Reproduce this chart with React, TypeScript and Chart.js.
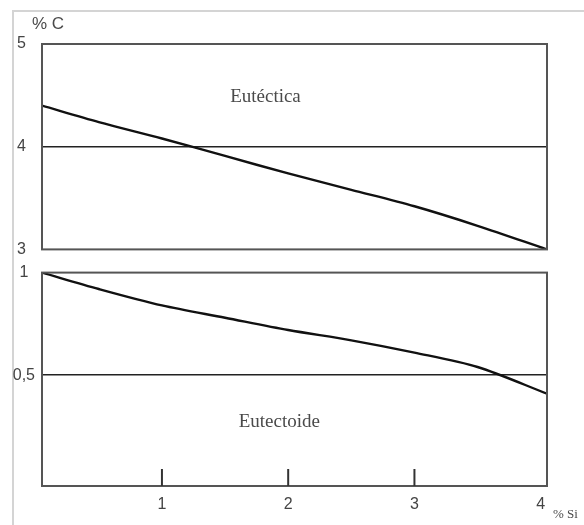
import React, { useEffect, useRef } from 'react';
import { Chart, registerables } from 'chart.js';
Chart.register(...registerables);

// % Si (x) values sampled along both curves
const siPct = [0.05, 0.5, 1, 1.5, 2, 2.5, 3, 3.5, 4.05];
// Eutectic carbon (% C)
const eutecticC = [4.4, 4.24, 4.08, 3.91, 3.74, 3.58, 3.42, 3.23, 3.0];
// Eutectoid carbon (% C)
const eutectoidC = [1.0, 0.92, 0.84, 0.78, 0.72, 0.67, 0.61, 0.54, 0.41];

const topTicks = [3, 4, 5];
const bottomTicks = [0.5, 1];
const xTicks = [1, 2, 3, 4];
const topRef = 4;
const bottomRef = 0.5;

const SANS = "'Liberation Sans', Arial, sans-serif";
const SERIF = "'Liberation Serif', 'Times New Roman', serif";

const framePlugin = {
  id: 'frame',
  afterDatasetsDraw(chart: any, _args: any, opts: any) {
    const { ctx, chartArea } = chart;
    const { left, right, top, bottom } = chartArea;
    ctx.save();
    ctx.strokeStyle = '#555';
    ctx.lineWidth = 2;
    ctx.strokeRect(left, top, right - left, bottom - top);
    const xs = chart.scales.x;
    const ys = chart.scales.y;
    if (opts.innerTicks) {
      ctx.strokeStyle = '#333';
      ctx.lineWidth = 2;
      for (const v of opts.innerTicks) {
        const px = xs.getPixelForValue(v);
        ctx.beginPath();
        ctx.moveTo(px, bottom);
        ctx.lineTo(px, bottom - 17);
        ctx.stroke();
      }
    }
    ctx.fillStyle = '#4a4a4a';
    for (const t of opts.labels || []) {
      ctx.font = t.font;
      ctx.textAlign = 'center';
      ctx.textBaseline = 'middle';
      ctx.fillText(t.text, xs.getPixelForValue(t.x), ys.getPixelForValue(t.y));
    }
    for (const t of opts.corner || []) {
      ctx.font = t.font;
      ctx.textAlign = 'left';
      ctx.textBaseline = 'middle';
      const bx = t.anchor === 'tl' ? left : right;
      const by = t.anchor === 'tl' ? top : bottom;
      ctx.fillText(t.text, bx + t.dx, by + t.dy);
    }
    ctx.restore();
  },
};

function makeTop(canvas: HTMLCanvasElement) {
  return new Chart(canvas, {
    type: 'line',
    data: {
      datasets: [
        {
          data: siPct.map((x, i) => ({ x, y: eutecticC[i] })),
          borderColor: '#111',
          borderWidth: 2.4,
          pointRadius: 0,
          tension: 0.3,
          fill: false,
        },
      ],
    },
    options: {
      responsive: false,
      animation: false,
      layout: { padding: { top: 44, right: 37, bottom: 12, left: 0 } },
      plugins: {
        legend: { display: false },
        tooltip: { enabled: false },
        frame: {
          labels: [{ text: 'Eutéctica', x: 1.82, y: 4.48, font: `19px ${SERIF}` }],
          corner: [{ text: '% C', anchor: 'tl', dx: -10, dy: -20, font: `17px ${SANS}` }],
        },
      } as any,
      scales: {
        x: { type: 'linear', display: false, min: 0.05, max: 4.05 },
        y: {
          type: 'linear',
          min: 3,
          max: 5,
          afterFit: (s: any) => { s.width = 42; },
          afterBuildTicks: (s: any) => { s.ticks = topTicks.map((v) => ({ value: v })); },
          ticks: {
            crossAlign: 'center',
            padding: 16,
            color: '#444',
            font: { family: SANS, size: 16 },
            callback: (v: any) => String(v),
          },
          grid: {
            drawTicks: false,
            lineWidth: 1.5,
            color: (c: any) => (c.tick && c.tick.value === topRef ? '#222' : 'rgba(0,0,0,0)'),
          },
          border: { display: false },
        },
      },
    },
    plugins: [framePlugin],
  } as any);
}

function makeBottom(canvas: HTMLCanvasElement) {
  return new Chart(canvas, {
    type: 'line',
    data: {
      datasets: [
        {
          data: siPct.map((x, i) => ({ x, y: eutectoidC[i] })),
          borderColor: '#111',
          borderWidth: 2.4,
          pointRadius: 0,
          tension: 0.3,
          fill: false,
        },
      ],
    },
    options: {
      responsive: false,
      animation: false,
      layout: { padding: { top: 4, right: 37, bottom: 0, left: 0 } },
      plugins: {
        legend: { display: false },
        tooltip: { enabled: false },
        frame: {
          innerTicks: [1, 2, 3],
          labels: [{ text: 'Eutectoide', x: 1.93, y: 0.27, font: `19px ${SERIF}` }],
          corner: [{ text: '% Si', anchor: 'br', dx: 6, dy: 29, font: `13px ${SERIF}` }],
        },
      } as any,
      scales: {
        x: {
          type: 'linear',
          min: 0.05,
          max: 4.05,
          afterFit: (s: any) => { s.height = 39; },
          afterBuildTicks: (s: any) => { s.ticks = xTicks.map((v) => ({ value: v })); },
          ticks: {
            padding: 9,
            color: '#444',
            font: { family: SANS, size: 16 },
            maxRotation: 0,
            callback: (v: any) => String(v),
          },
          grid: { drawOnChartArea: false, drawTicks: false },
          border: { display: false },
        },
        y: {
          type: 'linear',
          min: -0.04,
          max: 1,
          afterFit: (s: any) => { s.width = 42; },
          afterBuildTicks: (s: any) => { s.ticks = bottomTicks.map((v) => ({ value: v })); },
          ticks: {
            crossAlign: 'center',
            padding: 7,
            color: '#444',
            font: { family: SANS, size: 16 },
            callback: (v: any) => String(v).replace('.', ','),
          },
          grid: {
            drawTicks: false,
            lineWidth: 1.5,
            color: (c: any) => (c.tick && c.tick.value === bottomRef ? '#222' : 'rgba(0,0,0,0)'),
          },
          border: { display: false },
        },
      },
    },
    plugins: [framePlugin],
  } as any);
}

export default function App() {
  const topRef1 = useRef<HTMLCanvasElement>(null);
  const botRef1 = useRef<HTMLCanvasElement>(null);
  useEffect(() => {
    const a = makeTop(topRef1.current!);
    const b = makeBottom(botRef1.current!);
    return () => {
      a.destroy();
      b.destroy();
    };
  }, []);
  return (
    <div
      style={{
        position: 'fixed',
        left: 0,
        top: 0,
        width: 584,
        height: 525,
        background: '#fff',
        overflow: 'hidden',
      }}
    >
      <div
        style={{
          position: 'absolute',
          left: 12,
          top: 10,
          width: 700,
          height: 700,
          border: '2px solid #d4d4d4',
        }}
      />
      <canvas
        ref={topRef1}
        width={584}
        height={275}
        style={{ position: 'absolute', left: 0, top: 0, width: 584, height: 275, display: 'block' }}
      />
      <canvas
        ref={botRef1}
        width={584}
        height={269}
        style={{ position: 'absolute', left: 0, top: 256, width: 584, height: 269, display: 'block' }}
      />
    </div>
  );
}
